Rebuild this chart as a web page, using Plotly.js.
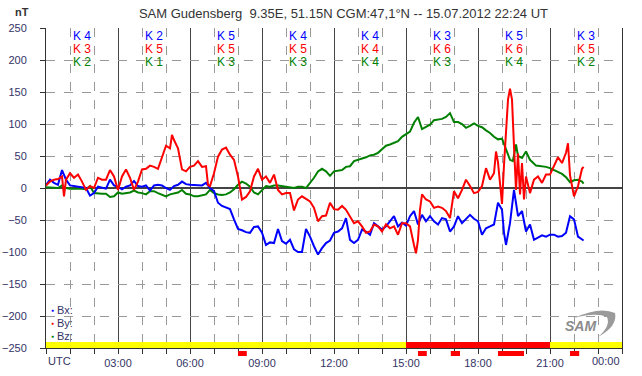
<!DOCTYPE html>
<html><head><meta charset="utf-8">
<script src="https://cdn.plot.ly/plotly-3.0.1.min.js"></script>
<style>html,body{margin:0;padding:0;background:#fff}#c{width:642px;height:376px}</style>
</head><body><div id="c"></div>
<script>
// [minute of day, nT]
const bxData = [[0,5],[10,13],[20,8],[30,5],[40,28],[50,13],[60,4],[70,3],[80,2],[90,2],
[100,0],[110,-12],[120,-8],[130,2],[140,0],[150,-1],[160,13],[170,4],[180,2],[190,-2],
[200,2],[210,4],[220,11],[230,3],[240,2],[250,4],[260,-4],[270,4],[280,5],[290,4],
[300,0],[310,-3],[320,3],[330,5],[340,10],[350,6],[360,5],[370,5],[380,5],[390,4],
[400,8],[410,0],[420,-5],[430,-23],[440,-28],[450,-30],[460,-33],[470,-49],[480,-64],[490,-66],
[500,-69],[510,-70],[520,-61],[530,-60],[540,-70],[550,-89],[560,-85],[570,-86],[580,-64],[590,-83],
[600,-87],[610,-81],[620,-96],[630,-100],[640,-100],[650,-64],[660,-76],[670,-91],[680,-104],[690,-94],
[700,-86],[710,-82],[720,-70],[730,-68],[740,-63],[750,-47],[760,-81],[770,-86],[780,-81],[790,-65],
[800,-68],[810,-73],[820,-55],[830,-60],[840,-65],[850,-60],[860,-52],[870,-44],[880,-60],[890,-54],
[900,-59],[910,-44],[920,-36],[930,-57],[940,-42],[950,-52],[960,-44],[970,-52],[980,-57],[990,-47],
[1000,-49],[1010,-68],[1020,-60],[1030,-44],[1040,-55],[1050,-49],[1060,-42],[1070,-48],[1080,-52],[1090,-73],
[1100,-63],[1110,-60],[1120,-57],[1130,-23],[1140,-34],[1145,-70],[1150,-89],[1160,-55],[1170,-3],[1180,-44],
[1190,-36],[1200,-68],[1210,-57],[1220,-81],[1230,-78],[1240,-74],[1250,-76],[1260,-73],[1270,-73],[1280,-76],
[1290,-75],[1300,-70],[1310,-44],[1320,-49],[1330,-76],[1340,-81],[1344,-82]];

const byData = [[0,4],[10,10],[20,13],[30,14],[40,18],[45,-13],[50,13],[60,23],[70,16],[80,21],
[90,10],[100,-3],[110,3],[120,0],[130,16],[140,13],[150,13],[160,28],[170,18],[180,-3],
[190,18],[200,29],[210,16],[220,-3],[230,10],[240,29],[250,30],[260,35],[270,33],[280,30],
[290,48],[300,66],[310,62],[315,83],[320,75],[330,62],[340,29],[350,26],[360,33],[370,35],
[380,42],[390,33],[400,34],[405,5],[410,3],[420,23],[430,49],[440,60],[450,63],[460,52],
[470,44],[480,18],[490,-18],[500,-14],[510,-5],[520,18],[530,30],[540,13],[550,18],[560,8],
[570,21],[580,-3],[590,-10],[600,-8],[610,-8],[620,-35],[630,-18],[640,-13],[650,-17],[660,-21],
[670,-31],[680,-52],[690,-44],[700,-43],[710,-23],[720,-33],[730,-34],[740,-28],[750,-34],[760,-44],
[770,-55],[780,-52],[790,-60],[800,-70],[810,-68],[820,-57],[830,-60],[840,-68],[850,-57],[860,-63],
[870,-60],[880,-73],[890,-55],[900,-55],[910,-60],[920,-89],[925,-102],[930,-81],[935,-34],[940,-10],
[950,-18],[960,-21],[970,-31],[980,-29],[990,-31],[1000,-36],[1010,-47],[1020,-5],[1030,-16],[1040,-3],
[1050,13],[1060,3],[1070,-8],[1080,-6],[1090,3],[1100,31],[1110,13],[1120,23],[1125,57],[1130,40],
[1135,3],[1140,-25],[1145,36],[1150,86],[1155,138],[1160,155],[1165,138],[1170,65],[1175,-3],[1180,54],
[1185,-10],[1190,39],[1195,-18],[1200,18],[1210,-8],[1220,13],[1230,18],[1240,8],[1250,21],[1260,21],
[1270,34],[1280,48],[1290,39],[1300,55],[1305,70],[1310,20],[1320,-13],[1330,3],[1340,30],[1344,33]];

const bzData = [[0,1],[10,1],[20,1],[30,0],[40,4],[50,0],[60,-1],[70,-1],[80,0],[90,-1],
[100,-2],[110,3],[120,-8],[130,-9],[140,-9],[150,-9],[160,-14],[170,-13],[180,-7],[190,-9],
[200,-8],[210,-7],[220,-4],[230,-7],[240,-8],[250,-10],[260,-5],[270,-5],[280,-8],[290,-10],
[300,-13],[310,-10],[320,-8],[330,-7],[340,-3],[350,-9],[360,-10],[370,-13],[380,-13],[390,-12],
[400,-10],[410,-3],[420,-8],[430,-10],[440,-11],[450,-10],[460,-7],[470,-2],[480,5],[490,10],
[500,7],[510,2],[520,-7],[530,-10],[540,-3],[550,3],[560,2],[570,4],[580,4],[590,3],
[600,2],[610,0],[620,0],[630,2],[640,2],[650,0],[660,8],[670,16],[680,26],[690,30],
[700,26],[710,19],[720,26],[730,27],[740,28],[750,33],[760,34],[770,42],[780,44],[790,45],
[800,48],[810,51],[820,52],[830,55],[840,60],[850,66],[860,68],[870,70],[880,73],[890,80],
[900,84],[910,88],[920,102],[930,111],[940,92],[950,95],[960,99],[970,106],[980,107],[990,108],
[1000,111],[1010,117],[1020,103],[1030,103],[1040,100],[1050,94],[1060,97],[1070,101],[1080,97],[1090,95],
[1100,90],[1110,86],[1120,80],[1130,76],[1140,77],[1150,60],[1160,44],[1167,42],[1175,68],[1180,50],
[1190,47],[1200,57],[1210,44],[1225,35],[1240,34],[1250,33],[1260,31],[1270,28],[1280,25],[1290,22],
[1300,17],[1310,9],[1320,12],[1330,13],[1340,10],[1344,7]];

// 3-hour K indices per component
const kBx = [4,2,5,4,4,3,5,3];
const kBy = [3,5,5,5,4,6,6,5];
const kBz = [2,1,3,3,4,3,4,2];
// activity level per 3h block (0 quiet, 1 storm)
const blockLevel = [0,0,0,0,0,1,1,0];
// storm flag intervals (minutes)
const flagStart = [480, 930, 1012, 1130, 1310];
const flagEnd   = [502, 952, 1035, 1195, 1333];
const tickMinutes = [0,180,360,540,720,900,1080,1260,1440];
const tickLabels = ['','03:00','06:00','09:00','12:00','15:00','18:00','21:00',''];

const FONT = 'Arial, "Liberation Sans", sans-serif';
const LBL = '#333366';
const PX = p => (p-46)/576;
const PY = p => (348-p)/320;

function line(d, color){
  return {type:'scatter', mode:'lines', x:d.map(a=>a[0]), y:d.map(a=>a[1]),
    line:{color:color, width:2}, hoverinfo:'skip'};
}
const blockCenters = blockLevel.map((_,i)=>i*180+90);
const traces = [
  {type:'bar', x:blockCenters, y:blockLevel.map(()=>10), base:-250, width:180,
   marker:{color:blockLevel.map(l=>l? '#ff0000':'#ffff00'), line:{width:0}}, hoverinfo:'skip'},
  line(bzData,'#008000'),
  line(bxData,'#0000ff'),
  line(byData,'#ff0000')
];

const ann = [];
const kRows = [[kBx,'#0000ff',36],[kBy,'#ff0000',49],[kBz,'#008000',62]];
kRows.forEach(([arr,col,py])=>{
  arr.forEach((k,i)=>ann.push({x:i*180+90, xref:'x', y:PY(py), yref:'paper', text:'K '+k,
    showarrow:false, font:{family:FONT,size:12,color:col}, xanchor:'center', yanchor:'middle'}));
});
[['Bx:','#0000ff',310],['By:','#ff0000',323],['Bz:','#008000',336]].forEach(([t,col,py])=>{
  ann.push({x:PX(49), xref:'paper', y:PY(py), yref:'paper', text:'●', showarrow:false,
    font:{family:FONT,size:5,color:col}, xanchor:'left', yanchor:'middle'});
  ann.push({x:PX(55), xref:'paper', y:PY(py), yref:'paper', text:t, showarrow:false,
    font:{family:FONT,size:11,color:LBL}, xanchor:'left', yanchor:'middle'});
});
ann.push({x:0, xref:'x', y:PY(361), yref:'paper', text:'UTC', showarrow:false,
  font:{family:FONT,size:11,color:LBL}, xanchor:'left', yanchor:'middle'});
ann.push({x:1440, xref:'x', y:PY(361), yref:'paper', text:'00:00', showarrow:false,
  font:{family:FONT,size:11,color:LBL}, xanchor:'right', yanchor:'middle'});
ann.push({x:PX(22), xref:'paper', y:PY(12), yref:'paper', text:'<b>nT</b>', showarrow:false,
  font:{family:FONT,size:11,color:'#333'}, xanchor:'center', yanchor:'middle'});
ann.push({x:PX(580), xref:'paper', y:PY(326), yref:'paper', text:'<b><i>SAM</i></b>', showarrow:false,
  font:{family:FONT,size:14,color:'#8c8c8c'}, xanchor:'center', yanchor:'middle'});

const shapes = flagStart.map((s,i)=>({type:'rect', xref:'x', yref:'paper', x0:s, x1:flagEnd[i],
  y0:PY(356), y1:PY(351), fillcolor:'#ff0000', line:{width:0}, layer:'above'}));
// logo swoosh
const P = (x,y)=>PX(x)+','+PY(y);
shapes.push({type:'path', xref:'paper', yref:'paper', layer:'above',
  path:'M'+P(574,318)+' Q'+P(600,306)+' '+P(615,313)+' Q'+P(618,326)+' '+P(598,337)+
       ' Q'+P(611,326)+' '+P(607,317)+' Q'+P(596,312)+' '+P(574,318)+' Z',
  fillcolor:'#9a9a9a', line:{width:0}});

const layout = {
  width:642, height:376, margin:{l:46,r:20,t:28,b:28},
  paper_bgcolor:'#fff', plot_bgcolor:'#fff', showlegend:false, bargap:0,
  font:{family:FONT, size:11, color:LBL},
  title:{text:'SAM Gudensberg\u00a0\u00a09.35E, 51.15N CGM:47,1°N -- 15.07.2012 22:24 UT',
    font:{family:FONT,size:13,color:'#333'}, x:0.535, xref:'container', xanchor:'center',
    y:0.963, yref:'container', yanchor:'middle'},
  xaxis:{range:[0,1440], tickmode:'array', tickvals:tickMinutes, ticktext:tickLabels,
    showgrid:true, gridcolor:'#444', gridwidth:1, zeroline:false,
    showline:true, linecolor:'#333', linewidth:1,
    ticks:'outside', ticklen:5, tickcolor:'#333', tickfont:{family:FONT,size:11,color:LBL},
    minor:{dtick:60, tick0:0, showgrid:true, gridcolor:'#999', griddash:'dash', gridwidth:1,
      ticks:'outside', ticklen:5, tickcolor:'#333'}, fixedrange:true},
  yaxis:{range:[-250,250], dtick:50, tick0:0, showgrid:true, gridcolor:'#999', griddash:'dash',
    zeroline:true, zerolinecolor:'#444', zerolinewidth:1.5,
    showline:true, mirror:true, linecolor:'#333', linewidth:1,
    ticks:'outside', ticklen:5, tickcolor:'#333', ticklabelstandoff:11,
    tickfont:{family:FONT,size:11,color:LBL}, fixedrange:true},
  annotations:ann, shapes:shapes
};
Plotly.newPlot('c', traces, layout, {displayModeBar:false, staticPlot:true});
</script></body></html>
